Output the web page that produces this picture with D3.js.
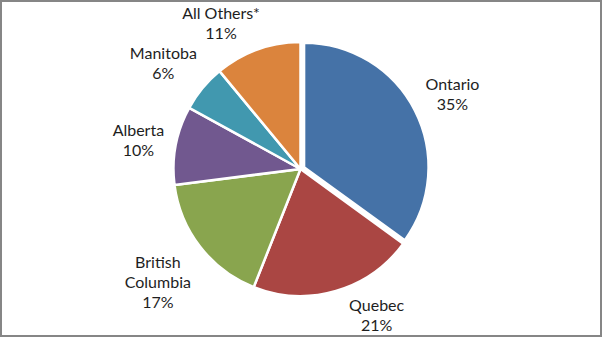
<!DOCTYPE html>
<html>
<head>
<meta charset="utf-8">
<script src="https://cdn.jsdelivr.net/npm/d3@7"></script>
<style>
  body { margin: 0; background: #fff; }
  svg { display: block; }
  .label { font-family: Lato, "Open Sans", sans-serif; font-size: 16px; fill: #1e1e1e; }
</style>
</head>
<body>
<div id="chart-area"></div>
<script>
// data
const categories = ["Ontario", "Quebec", "British Columbia", "Alberta", "Manitoba", "All Others*"];
const shares = [35, 21, 17, 10, 6, 11];
const labelLines = [["Ontario"], ["Quebec"], ["British", "Columbia"], ["Alberta"], ["Manitoba"], ["All Others*"]];
const colors = ["#4572A7", "#AA4643", "#89A54E", "#71588F", "#4198AF", "#DB843D"];

const WIDTH = 602, HEIGHT = 337;
const CX = 300.5, CY = 169, R = 127;
const EXPLODE = 4;        // Ontario is pulled out a little
const GAP = 9;            // space between pie edge and label box
const LINE_H = 20;
const BASE = 18;          // first baseline below the box top
const AREA = {TOP: 1, BOTTOM: 333};

const svg = d3.select("#chart-area").append("svg")
    .attr("width", WIDTH)
    .attr("height", HEIGHT);

svg.append("rect")
    .attr("x", 1).attr("y", 1)
    .attr("width", WIDTH - 2).attr("height", HEIGHT - 2)
    .attr("fill", "#fff")
    .attr("stroke", "#868686")
    .attr("stroke-width", 2);

const color = d3.scaleOrdinal().domain(categories).range(colors);

const pie = d3.pie().sort(null).value(d => d.value);
const arcs = pie(categories.map((c, i) => ({name: c, value: shares[i], lines: labelLines[i]})));

function sliceInfo(d, i) {
    const a = (d.startAngle + d.endAngle) / 2;
    const off = i === 0 ? EXPLODE : 0;
    return {
        a: a,
        cx: CX + Math.sin(a) * off,
        cy: CY - Math.cos(a) * off,
        r: i === 0 ? R - 2.5 : R
    };
}

const graph = svg.append("g");

graph.selectAll("path.slice")
    .data(arcs)
    .enter().append("path")
    .attr("class", "slice")
    .attr("transform", (d, i) => {
        const s = sliceInfo(d, i);
        return `translate(${s.cx}, ${s.cy})`;
    })
    .attr("d", (d, i) => d3.arc().innerRadius(0).outerRadius(sliceInfo(d, i).r)(d))
    .attr("fill", d => color(d.data.name))
    .attr("stroke", "#fff")
    .attr("stroke-width", 2.5)
    .attr("stroke-linejoin", "round");

// labels: outside end, kept inside the chart area and not overlapping
const labels = graph.selectAll("text.label")
    .data(arcs)
    .enter().append("text")
    .attr("class", "label")
    .attr("text-anchor", "middle");

labels.each(function (d) {
    const t = d3.select(this);
    d.data.lines.concat([d.data.value + "%"]).forEach(line => {
        t.append("tspan").text(line);
    });
});

const boxes = [];
labels.each(function (d, i) {
    const s = sliceInfo(d, i);
    let w = 0;
    d3.select(this).selectAll("tspan").each(function () {
        w = Math.max(w, this.getComputedTextLength());
    });
    const h = LINE_H * (d.data.lines.length + 1);
    const dx = Math.sin(s.a), dy = -Math.cos(s.a);
    const dist = s.r + GAP + Math.abs(dx) * w / 2 + Math.abs(dy) * h / 2;
    boxes.push({i: i, s: s, w: w, h: h, dist: dist, side: dx >= 0 ? 1 : -1,
                x: s.cx + dx * dist, y: s.cy + dy * dist});
});

function moveTo(b, y) {
    b.y = y;
    const yy = y - b.s.cy;
    const xx = b.dist * b.dist - yy * yy;
    b.x = b.s.cx + b.side * (xx > 0 ? Math.sqrt(xx) : 0);
}

boxes.forEach(b => {
    if (b.y - b.h / 2 < AREA.TOP) moveTo(b, AREA.TOP + b.h / 2);
    if (b.y + b.h / 2 > AREA.BOTTOM) moveTo(b, AREA.BOTTOM - b.h / 2);
});

[-1, 1].forEach(side => {
    const list = boxes.filter(b => b.side === side).sort((p, q) => p.y - q.y);
    for (let k = 1; k < list.length; k++) {
        const prev = list[k - 1], cur = list[k];
        const overlapX = Math.abs(prev.x - cur.x) < (prev.w + cur.w) / 2;
        const prevBottom = prev.y + prev.h / 2;
        if (overlapX && cur.y - cur.h / 2 < prevBottom) moveTo(cur, prevBottom + cur.h / 2);
    }
});

labels.each(function (d, i) {
    const b = boxes[i];
    const top = b.y - b.h / 2;
    d3.select(this).selectAll("tspan")
        .attr("x", b.x)
        .attr("y", (t, k) => top + BASE + k * LINE_H);
});
</script>
</body>
</html>
